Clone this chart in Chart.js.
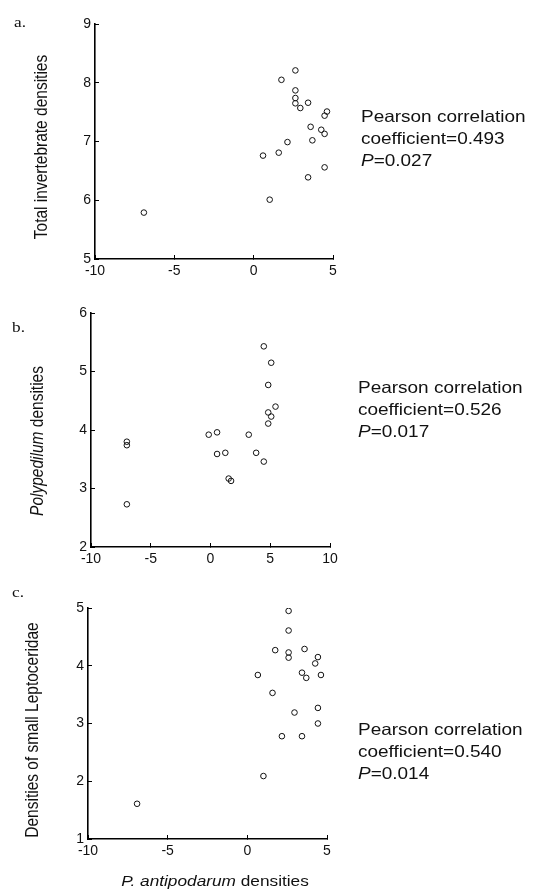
<!DOCTYPE html>
<html>
<head>
<meta charset="utf-8">
<script src="https://cdn.jsdelivr.net/npm/chart.js@4.4.1/dist/chart.umd.min.js"></script>
<style>
  body { margin: 0; background: #fff; }
  canvas { position: absolute; left: 0; }
</style>
</head>
<body>
<canvas id="painelA" width="535" height="285" style="top:0"></canvas>
<canvas id="painelB" width="535" height="285" style="top:290px"></canvas>
<canvas id="painelC" width="535" height="315" style="top:580px"></canvas>
<script>
// ---- Dados ----
// a. densidade total de invertebrados x P. antipodarum
const xA = [-6.92, 1.01, 0.59, 1.58, 2.13, 1.75, 2.63, 2.63, 2.63, 2.63,
            2.94, 3.43, 4.62, 4.47, 3.59, 4.26, 4.47, 3.70, 4.47, 3.43];
const yA = [5.79, 6.01, 6.76, 6.81, 6.99, 8.05, 8.21, 7.87, 7.74, 7.65,
            7.57, 7.66, 7.51, 7.44, 7.25, 7.20, 7.13, 7.02, 6.56, 6.39];

// b. Polypedilum
const xB = [-7.0, -7.0, -7.0, -0.15, 0.55, 0.55, 1.24, 1.52, 1.72, 3.2,
            3.82, 4.46, 4.46, 5.08, 4.83, 4.83, 5.08, 4.83, 5.44];
const yB = [3.80, 3.74, 2.73, 3.92, 3.96, 3.59, 3.61, 3.17, 3.13, 3.92,
            3.61, 3.46, 5.43, 5.15, 4.77, 4.30, 4.23, 4.11, 4.40];

// c. Leptoceridae pequenos
const xC = [-6.92, 1.01, 2.17, 3.43, 2.96, 4.43, 4.43, 1.58, 0.66, 1.75,
            2.59, 2.59, 2.59, 2.59, 3.59, 3.43, 3.70, 4.26, 4.43, 4.62];
const yC = [1.61, 2.09, 2.78, 2.78, 3.19, 3.00, 3.27, 3.53, 3.84, 4.27,
            4.95, 4.61, 4.23, 4.14, 4.29, 3.88, 3.79, 4.04, 4.15, 3.84];

// Marcas dos eixos
const ticksXA = [-10, -5, 0, 5];
const ticksYA = [5, 6, 7, 8, 9];
const ticksXB = [-10, -5, 0, 5, 10];
const ticksYB = [2, 3, 4, 5, 6];
const ticksXC = [-10, -5, 0, 5];
const ticksYC = [1, 2, 3, 4, 5];

const FONTE = "'Liberation Sans', Arial, sans-serif";
const ESTICA = 1.15; // a figura original está levemente esticada na horizontal

/** Plugin: escreve textos (com partes em itálico) no canvas */
const textosPainel = {
  id: "textosPainel",
  afterDraw(chart, args, opts) {
    const ctx = chart.ctx;
    (opts.itens || []).forEach((item) => {
      ctx.save();
      ctx.translate(item.x, item.y);
      ctx.scale(ESTICA, 1);
      if (item.rot) ctx.rotate(item.rot);
      ctx.fillStyle = "#111";
      ctx.textBaseline = "middle";
      ctx.textAlign = "left";
      const familia = item.serif ? "'Liberation Serif', 'Times New Roman', serif" : FONTE;
      const partes = item.partes.map((p) => {
        ctx.font = `${p.it ? "italic " : ""}${item.tam}px ${familia}`;
        return { ...p, w: ctx.measureText(p.t).width };
      });
      const total = partes.reduce((s, p) => s + p.w, 0);
      let x = item.centro ? -total / 2 : 0;
      partes.forEach((p) => {
        ctx.font = `${p.it ? "italic " : ""}${item.tam}px ${familia}`;
        ctx.fillText(p.t, x, 0);
        x += p.w;
      });
      ctx.restore();
    });
  },
};

/** Linhas do texto da correlação de Pearson */
function textoPearson(x, y, coef, p) {
  return [
    { x, y, tam: 16.5, partes: [{ t: "Pearson correlation" }] },
    { x, y: y + 22, tam: 16.5, partes: [{ t: "coefficient=" + coef }] },
    { x, y: y + 44, tam: 16.5, partes: [{ t: "P", it: true }, { t: "=" + p }] },
  ];
}

function eixo(ticks, ajuste, ehX) {
  return {
    type: "linear",
    min: ticks[0],
    max: ticks[ticks.length - 1],
    afterBuildTicks: (s) => { s.ticks = ticks.map((v) => ({ value: v })); },
    afterFit: (s) => { if (ehX) s.height = ajuste; else s.width = ajuste; },
    border: { display: true, color: "#000", width: 1.6 },
    grid: { drawOnChartArea: false, drawTicks: true, tickLength: -4, color: "#000", lineWidth: 1 },
    ticks: { padding: 8, color: "#111", autoSkip: false, maxRotation: 0, font: { family: FONTE, size: 14 } },
  };
}

function criarPainel(canvasId, xs, ys, ticksX, ticksY, larguraY, alturaX, padding, itens) {
  const pontos = xs.map((x, i) => ({ x, y: ys[i] }));
  return new Chart(document.getElementById(canvasId), {
    type: "scatter",
    data: {
      datasets: [{
        data: pontos,
        pointRadius: 2.8,
        pointBorderWidth: 1,
        borderColor: "#111",
        backgroundColor: "rgba(255,255,255,0)",
      }],
    },
    options: {
      responsive: false,
      animation: false,
      layout: { padding },
      scales: {
        x: eixo(ticksX, alturaX, true),
        y: eixo(ticksY, larguraY, false),
      },
      plugins: {
        legend: { display: false },
        tooltip: { enabled: false },
        textosPainel: { itens },
      },
    },
    plugins: [textosPainel],
  });
}

// ---------- Painéis ----------
const rot = -Math.PI / 2;

criarPainel("painelA", xA, yA, ticksXA, ticksYA, 95, 26,
  { top: 24, right: 202, left: 0, bottom: 0 }, [
    { x: 14, y: 23, tam: 15, serif: true, partes: [{ t: "a." }] },
    { x: 42, y: 147, tam: 15.5, rot, centro: true, partes: [{ t: "Total invertebrate densities" }] },
    ...textoPearson(361, 117, "0.493", "0.027"),
  ]);

criarPainel("painelB", xB, yB, ticksXB, ticksYB, 91, 28,
  { top: 23, right: 205, left: 0, bottom: 0 }, [
    { x: 12, y: 38, tam: 15, serif: true, partes: [{ t: "b." }] },
    { x: 38, y: 151, tam: 15.5, rot, centro: true,
      partes: [{ t: "Polypedilum", it: true }, { t: " densities" }] },
    ...textoPearson(358, 98, "0.526", "0.017"),
  ]);

criarPainel("painelC", xC, yC, ticksXC, ticksYC, 88, 56,
  { top: 28, right: 208, left: 0, bottom: 0 }, [
    { x: 12, y: 13, tam: 15, serif: true, partes: [{ t: "c." }] },
    { x: 33, y: 150, tam: 15.5, rot, centro: true, partes: [{ t: "Densities of small Leptoceridae" }] },
    ...textoPearson(358, 150, "0.540", "0.014"),
    { x: 215, y: 302, tam: 15, centro: true,
      partes: [{ t: "P. antipodarum", it: true }, { t: " densities" }] },
  ]);
</script>
</body>
</html>
